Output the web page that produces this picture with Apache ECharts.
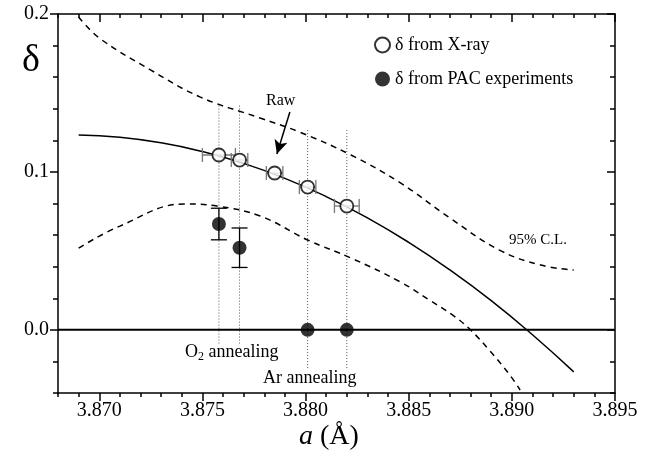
<!DOCTYPE html>
<html>
<head>
<meta charset="utf-8">
<script src="https://cdn.jsdelivr.net/npm/echarts@6/dist/echarts.min.js"></script>
<style>
    html, body { margin: 0; padding: 0; background: #fff; }
    #chart { width: 653px; height: 464px; }
</style>
</head>
<body>
<div id="chart"></div>
<script>
// tick positions
const xMajor = [3.870, 3.875, 3.880, 3.885, 3.890, 3.895]
const xMinor = [3.868, 3.869, 3.871, 3.872, 3.873, 3.874, 3.876, 3.877, 3.878, 3.879, 3.881, 3.882, 3.883, 3.884, 3.886, 3.887, 3.888, 3.889, 3.891, 3.892, 3.893, 3.894]
const yMajor = [0.0, 0.1, 0.2]
const yMinor = [-0.04, -0.02, 0.02, 0.04, 0.06, 0.08, 0.12, 0.14, 0.16, 0.18]

// delta from X-ray (open circles) with horizontal errors
const xrayA = [3.8758, 3.8768, 3.8785, 3.8801, 3.8820]
const xrayD = [0.1107, 0.1075, 0.0993, 0.0904, 0.0784]
const xrayErr = [0.0008, 0.0004, 0.0004, 0.0004, 0.0006]

// delta from PAC experiments (filled circles) with vertical errors
const pacA = [3.8758, 3.8768, 3.8801, 3.8820]
const pacD = [0.067, 0.052, 0.0, 0.0]
const pacErr = [0.010, 0.0125, 0, 0]

// fitted curve
const fitA = [3.869, 3.871, 3.873, 3.875, 3.877, 3.879, 3.881, 3.883, 3.885, 3.887, 3.889, 3.891, 3.893]
const fitD = [0.1234, 0.1219, 0.1184, 0.1129, 0.1054, 0.0959, 0.0844, 0.0709, 0.0554, 0.0379, 0.0185, -0.0031, -0.0266]

// 95% confidence limits
const upperA = [3.8690, 3.8700, 3.8725, 3.8749, 3.8778, 3.8797, 3.8822, 3.8846, 3.8870, 3.8894, 3.8914, 3.8930]
const upperD = [0.1981, 0.1848, 0.1645, 0.1474, 0.1341, 0.1253, 0.1107, 0.0930, 0.0708, 0.0505, 0.0410, 0.0379]
const lowerA = [3.8690, 3.8710, 3.8741, 3.8757, 3.8778, 3.8801, 3.8822, 3.8846, 3.8860, 3.8872, 3.8880, 3.8889, 3.8899, 3.8904]
const lowerD = [0.0518, 0.0657, 0.0797, 0.0784, 0.0721, 0.0569, 0.0455, 0.0303, 0.0189, 0.0087, -0.0001, -0.0128, -0.0286, -0.0381]

// dotted guide lines
const guideA = [3.8758, 3.8768, 3.8801, 3.8820]
const guideTop = [0.142, 0.142, 0.1265, 0.1265]
const guideBottom = [-0.0096, -0.0096, -0.0255, -0.0255]

const FONT = '"Liberation Serif", "DejaVu Serif", serif'
const xMin = 3.868, xMax = 3.895, yMin = -0.04, yMax = 0.2

const zip = (a, b) => a.map((v, i) => [v, b[i]])

function xAxisOf(pos, values, len, inside, labels, line) {
    return {
        type: 'value', position: pos, min: xMin, max: xMax,
        splitLine: { show: false },
        axisLine: { show: line, onZero: false, lineStyle: { color: '#000', width: 1.5 } },
        axisTick: { show: true, customValues: values, length: len, inside: inside, lineStyle: { color: '#000', width: 1.5 } },
        axisLabel: labels ? { show: true, customValues: values, formatter: v => v.toFixed(3), color: '#000', fontFamily: FONT, fontSize: 20, margin: 8 } : { show: false }
    }
}
function yAxisOf(pos, values, len, inside, labels, line) {
    return {
        type: 'value', position: pos, min: yMin, max: yMax,
        splitLine: { show: false },
        axisLine: { show: line, onZero: false, lineStyle: { color: '#000', width: 1.5 } },
        axisTick: { show: true, customValues: values, length: len, inside: inside, lineStyle: { color: '#000', width: 1.5 } },
        axisLabel: labels ? { show: true, customValues: values, formatter: v => v.toFixed(1), color: '#000', fontFamily: FONT, fontSize: 20, margin: 9 } : { show: false }
    }
}

const chart = echarts.init(document.getElementById('chart'), null, { renderer: 'canvas' })

const option = {
    animation: false,
    backgroundColor: '#fff',
    grid: { left: 58, right: 38, top: 14, bottom: 71 },
    xAxis: [
        xAxisOf('bottom', xMajor, 8, false, true, true),
        xAxisOf('bottom', xMinor, 4, false, false, false),
        xAxisOf('top', xMajor, 8, true, false, true),
        xAxisOf('top', xMinor, 4, true, false, false)
    ],
    yAxis: [
        yAxisOf('left', yMajor, 8, false, true, true),
        yAxisOf('left', yMinor, 5, false, false, false),
        yAxisOf('right', yMajor, 8, true, false, true),
        yAxisOf('right', yMinor, 5, true, false, false)
    ],
    legend: {
        orient: 'vertical',
        left: 369, top: 31,
        itemWidth: 15, itemHeight: 15, itemGap: 16,
        textStyle: { color: '#000', fontFamily: FONT, fontSize: 18 },
        data: [
            { name: 'δ from X-ray', icon: 'circle' },
            { name: 'δ from PAC experiments', icon: 'circle' }
        ]
    },
    graphic: [
        { type: 'text', left: 22, top: 42, style: { text: 'δ', fontFamily: FONT, fontSize: 38, fill: '#000' } },
        {
            type: 'text', left: 299, top: 423,
            style: {
                text: '{i|a} (Å)', fontFamily: FONT, fontSize: 28, fill: '#000',
                rich: { i: { fontStyle: 'italic', fontFamily: FONT, fontSize: 28 } }
            }
        },
        { type: 'text', left: 266, top: 93, style: { text: 'Raw', fontFamily: FONT, fontSize: 16, fill: '#000' } },
        { type: 'text', left: 509, top: 233, style: { text: '95% C.L.', fontFamily: FONT, fontSize: 15, fill: '#000' } },
        {
            type: 'text', left: 185, top: 343,
            style: {
                text: 'O{s|2} annealing', fontFamily: FONT, fontSize: 18, fill: '#000',
                rich: { s: { fontFamily: FONT, fontSize: 12, verticalAlign: 'bottom', padding: [9, 0, 0, 0] } }
            }
        },
        { type: 'text', left: 263, top: 369, style: { text: 'Ar annealing', fontFamily: FONT, fontSize: 18, fill: '#000' } }
    ],
    series: [
        {
            name: 'guides', type: 'custom', silent: true, z: 1,
            data: guideA.map((a, i) => [a, guideTop[i], guideBottom[i]]),
            encode: { x: 0, y: [1, 2] },
            renderItem: (params, api) => {
                const p1 = api.coord([api.value(0), api.value(1)])
                const p2 = api.coord([api.value(0), api.value(2)])
                return { type: 'line', shape: { x1: p1[0], y1: p1[1], x2: p2[0], y2: p2[1] }, style: { stroke: '#555', lineWidth: 1, lineDash: [1, 2] } }
            }
        },
        {
            name: 'zero', type: 'line', symbol: 'none', silent: true, z: 2,
            data: [[xMin, 0], [xMax, 0]],
            lineStyle: { color: '#000', width: 2 }
        },
        {
            name: 'fit', type: 'line', symbol: 'none', smooth: true, silent: true, z: 2,
            data: zip(fitA, fitD),
            lineStyle: { color: '#000', width: 1.5 },
            markLine: {
                silent: true, symbol: ['none', 'arrow'], symbolSize: [10, 14],
                label: { show: false },
                lineStyle: { color: '#000', width: 1.5, type: 'solid' },
                data: [[{ coord: [3.87924, 0.1379] }, { coord: [3.87861, 0.1113] }]]
            }
        },
        {
            name: 'upper', type: 'line', symbol: 'none', smooth: 0.4, silent: true, z: 2,
            data: zip(upperA, upperD),
            lineStyle: { color: '#000', width: 1.5, type: [6, 5] }
        },
        {
            name: 'lower', type: 'line', symbol: 'none', smooth: 0.4, silent: true, z: 2,
            data: zip(lowerA, lowerD),
            lineStyle: { color: '#000', width: 1.5, type: [6, 5] }
        },
        {
            name: 'xerr', type: 'custom', silent: true, z: 3,
            data: xrayA.map((a, i) => [a, xrayD[i], xrayErr[i]]),
            encode: { x: 0, y: 1 },
            renderItem: (params, api) => {
                const a = api.value(0), d = api.value(1), e = api.value(2)
                const l = api.coord([a - e, d]), r = api.coord([a + e, d])
                const st = { stroke: '#777', lineWidth: 1.3 }
                return {
                    type: 'group', children: [
                        { type: 'line', shape: { x1: l[0], y1: l[1], x2: r[0], y2: r[1] }, style: st },
                        { type: 'line', shape: { x1: l[0], y1: l[1] - 7, x2: l[0], y2: l[1] + 7 }, style: st },
                        { type: 'line', shape: { x1: r[0], y1: r[1] - 7, x2: r[0], y2: r[1] + 7 }, style: st }
                    ]
                }
            }
        },
        {
            name: 'yerr', type: 'custom', silent: true, z: 3,
            data: pacA.map((a, i) => [a, pacD[i], pacErr[i]]),
            encode: { x: 0, y: 1 },
            renderItem: (params, api) => {
                const a = api.value(0), d = api.value(1), e = api.value(2)
                if (!e) return null
                const t = api.coord([a, d + e]), b = api.coord([a, d - e])
                const st = { stroke: '#000', lineWidth: 1.3 }
                return {
                    type: 'group', children: [
                        { type: 'line', shape: { x1: t[0], y1: t[1], x2: b[0], y2: b[1] }, style: st },
                        { type: 'line', shape: { x1: t[0] - 8, y1: t[1], x2: t[0] + 8, y2: t[1] }, style: st },
                        { type: 'line', shape: { x1: b[0] - 8, y1: b[1], x2: b[0] + 8, y2: b[1] }, style: st }
                    ]
                }
            }
        },
        {
            name: 'δ from X-ray', type: 'scatter', z: 5,
            symbol: 'circle', symbolSize: 13,
            itemStyle: { color: '#fff', borderColor: '#000', borderWidth: 1.8 },
            data: zip(xrayA, xrayD)
        },
        {
            name: 'δ from PAC experiments', type: 'scatter', z: 5,
            symbol: 'circle', symbolSize: 14,
            itemStyle: { color: '#000' },
            data: zip(pacA, pacD)
        }
    ]
}

chart.setOption(option)
</script>
</body>
</html>
